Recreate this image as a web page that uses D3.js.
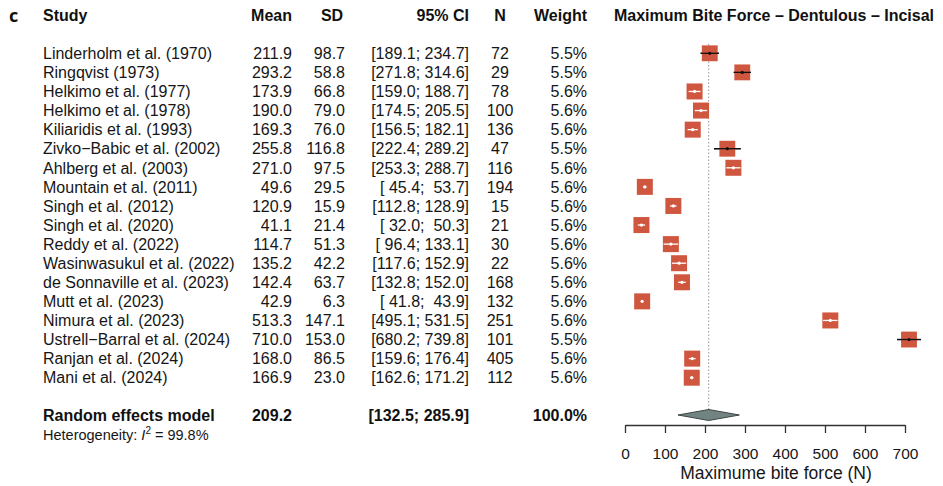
<!DOCTYPE html>
<html>
<head>
<meta charset="utf-8">
<script src="https://cdn.jsdelivr.net/npm/d3@7"></script>
<style>
  body { margin: 0; background: #fff; }
  svg { font-family: "Liberation Sans", Arial, sans-serif; }
  text { white-space: pre; }
</style>
</head>
<body>
<div id="chart"></div>
<script>
// data
const studies = [
  "Linderholm et al. (1970)", "Ringqvist (1973)", "Helkimo et al. (1977)",
  "Helkimo et al. (1978)", "Kiliaridis et al. (1993)", "Zivko\u2212Babic et al. (2002)",
  "Ahlberg et al. (2003)", "Mountain et al. (2011)", "Singh et al. (2012)",
  "Singh et al. (2020)", "Reddy et al. (2022)", "Wasinwasukul et al. (2022)",
  "de Sonnaville et al. (2023)", "Mutt et al. (2023)", "Nimura et al. (2023)",
  "Ustrell\u2212Barral et al. (2024)", "Ranjan et al. (2024)", "Mani et al. (2024)"
];
const means = [211.9, 293.2, 173.9, 190.0, 169.3, 255.8, 271.0, 49.6, 120.9, 41.1, 114.7, 135.2, 142.4, 42.9, 513.3, 710.0, 168.0, 166.9];
const sds = [98.7, 58.8, 66.8, 79.0, 76.0, 116.8, 97.5, 29.5, 15.9, 21.4, 51.3, 42.2, 63.7, 6.3, 147.1, 153.0, 86.5, 23.0];
const ciLow = [189.1, 271.8, 159.0, 174.5, 156.5, 222.4, 253.3, 45.4, 112.8, 32.0, 96.4, 117.6, 132.8, 41.8, 495.1, 680.2, 159.6, 162.6];
const ciHigh = [234.7, 314.6, 188.7, 205.5, 182.1, 289.2, 288.7, 53.7, 128.9, 50.3, 133.1, 152.9, 152.0, 43.9, 531.5, 739.8, 176.4, 171.2];
const ns = [72, 29, 78, 100, 136, 47, 116, 194, 15, 21, 30, 22, 168, 132, 251, 101, 405, 112];
const weights = [5.5, 5.5, 5.6, 5.6, 5.6, 5.5, 5.6, 5.6, 5.6, 5.6, 5.6, 5.6, 5.6, 5.6, 5.6, 5.5, 5.6, 5.6];
const pooled = { mean: 209.2, low: 132.5, high: 285.9, weight: 100.0, i2: 99.8 };
const xTicks = [0, 100, 200, 300, 400, 500, 600, 700];

const width = 943, height = 486;
const txt = "#161616";

const svg = d3.select("#chart").append("svg")
  .attr("width", width).attr("height", height);

// scales
const xScale = d3.scaleLinear().domain([0, 700]).range([625, 905]);
const yScale = d3.scaleLinear().domain([0, studies.length - 1]).range([53.3, 377.7]);
const sizeScale = d3.scaleSqrt().domain([0, 5.6]).range([0, 16]);

const fmt1 = d3.format(".1f");
const pad = (v) => { const s = fmt1(v); return s.length < 5 ? " ".repeat(5 - s.length) + s : s; };
const ciText = (lo, hi) => `[${pad(lo)}; ${pad(hi)}]`;

// columns
const cols = { study: 43, mean: 292, sd: 345, ci: 469, n: 500, weight: 587 };
const fs = 16;

// panel label + headers
svg.append("text").attr("x", 9).attr("y", 22)
  .attr("font-family", "'Open Sans', sans-serif").attr("font-weight", "bold")
  .attr("font-size", 18).attr("fill", "#111").text("c");

const headers = [
  { t: "Study", x: cols.study, a: "start" },
  { t: "Mean", x: cols.mean, a: "end" },
  { t: "SD", x: 332, a: "middle" },
  { t: "95% CI", x: cols.ci, a: "end" },
  { t: "N", x: cols.n, a: "middle" },
  { t: "Weight", x: cols.weight, a: "end" }
];
svg.selectAll(".hdr").data(headers).enter().append("text")
  .attr("x", (d) => d.x).attr("y", 21)
  .attr("text-anchor", (d) => d.a)
  .attr("font-size", fs).attr("font-weight", "bold").attr("fill", "#111")
  .text((d) => d.t);

svg.append("text").attr("x", 774).attr("y", 21).attr("text-anchor", "middle")
  .attr("font-size", fs).attr("font-weight", "bold").attr("fill", "#111")
  .text("Maximum Bite Force \u2013 Dentulous \u2013 Incisal");

// study rows
const rows = svg.selectAll(".row").data(studies).enter().append("g")
  .attr("transform", (d, i) => `translate(0, ${yScale(i)})`)
  .attr("font-size", fs).attr("fill", txt);

rows.append("text").attr("x", cols.study).attr("dy", "0.36em").text((d) => d);
rows.append("text").attr("x", cols.mean).attr("dy", "0.36em").attr("text-anchor", "end")
  .text((d, i) => fmt1(means[i]));
rows.append("text").attr("x", cols.sd).attr("dy", "0.36em").attr("text-anchor", "end")
  .text((d, i) => fmt1(sds[i]));
rows.append("text").attr("x", cols.ci).attr("dy", "0.36em").attr("text-anchor", "end")
  .text((d, i) => ciText(ciLow[i], ciHigh[i]));
rows.append("text").attr("x", cols.n).attr("dy", "0.36em").attr("text-anchor", "middle")
  .text((d, i) => ns[i]);
rows.append("text").attr("x", cols.weight).attr("dy", "0.36em").attr("text-anchor", "end")
  .text((d, i) => fmt1(weights[i]) + "%");

// pooled row
const yPool = 415;
const pool = svg.append("g").attr("transform", `translate(0, ${yPool})`)
  .attr("font-size", fs).attr("font-weight", "bold").attr("fill", "#111");
pool.append("text").attr("x", cols.study).attr("dy", "0.36em").text("Random effects model");
pool.append("text").attr("x", cols.mean).attr("dy", "0.36em").attr("text-anchor", "end").text(fmt1(pooled.mean));
pool.append("text").attr("x", cols.ci).attr("dy", "0.36em").attr("text-anchor", "end").text(ciText(pooled.low, pooled.high));
pool.append("text").attr("x", cols.weight).attr("dy", "0.36em").attr("text-anchor", "end").text(fmt1(pooled.weight) + "%");

const het = svg.append("text").attr("x", cols.study).attr("y", 440)
  .attr("font-size", 14.5).attr("fill", txt);
het.append("tspan").text("Heterogeneity: ");
het.append("tspan").attr("font-style", "italic").text("I");
het.append("tspan").attr("font-size", 10).attr("dy", -6).text("2");
het.append("tspan").attr("dy", 6).text(" = " + fmt1(pooled.i2) + "%");

// reference line at pooled estimate
svg.append("line")
  .attr("x1", xScale(pooled.mean)).attr("x2", xScale(pooled.mean))
  .attr("y1", 44).attr("y2", yPool - 5)
  .attr("stroke", "#999").attr("stroke-width", 1).attr("stroke-dasharray", "1.5,2");

// CI lines + squares
const marks = svg.selectAll(".mark").data(studies).enter().append("g")
  .attr("transform", (d, i) => `translate(0, ${yScale(i)})`);

marks.append("line")
  .attr("x1", (d, i) => xScale(ciLow[i])).attr("x2", (d, i) => xScale(ciHigh[i]))
  .attr("stroke", "#111").attr("stroke-width", 1.3);

marks.append("rect")
  .attr("x", (d, i) => xScale(means[i]) - sizeScale(weights[i]) / 2)
  .attr("y", (d, i) => -sizeScale(weights[i]) / 2)
  .attr("width", (d, i) => sizeScale(weights[i]))
  .attr("height", (d, i) => sizeScale(weights[i]))
  .attr("fill", "#d0573f");

const inside = (i) => {
  const h = sizeScale(weights[i]) / 2;
  return xScale(ciLow[i]) >= xScale(means[i]) - h && xScale(ciHigh[i]) <= xScale(means[i]) + h;
};
marks.append("line")
  .attr("x1", (d, i) => xScale(ciLow[i])).attr("x2", (d, i) => xScale(ciHigh[i]))
  .attr("stroke", (d, i) => inside(i) ? "#fff" : "#111").attr("stroke-width", 1.3);
marks.append("circle")
  .attr("cx", (d, i) => xScale(means[i])).attr("r", 1.6)
  .attr("fill", (d, i) => inside(i) ? "#fff" : "#111");

// diamond
const dh = 5.5;
svg.append("path")
  .attr("d", `M${xScale(pooled.low)},${yPool} L${xScale(pooled.mean)},${yPool - dh} L${xScale(pooled.high)},${yPool} L${xScale(pooled.mean)},${yPool + dh} Z`)
  .attr("fill", "#728481").attr("stroke", "#3d4645").attr("stroke-width", 1);

// axis
const xAxis = d3.axisBottom(xScale).tickValues(xTicks).tickSize(8).tickSizeOuter(0).tickPadding(15);
const axisG = svg.append("g").attr("transform", "translate(0, 425)").call(xAxis);
axisG.select(".domain").attr("stroke", "#333").attr("stroke-width", 1.3);
axisG.selectAll(".tick line").attr("stroke", "#333").attr("stroke-width", 1.3);
axisG.selectAll(".tick text").attr("font-size", 15.5).attr("fill", txt)
  .attr("font-family", "'Liberation Sans', Arial, sans-serif");

svg.append("text").attr("x", 776).attr("y", 479).attr("text-anchor", "middle")
  .attr("font-size", 17.5).attr("fill", txt).text("Maximume bite force (N)");
</script>
</body>
</html>
